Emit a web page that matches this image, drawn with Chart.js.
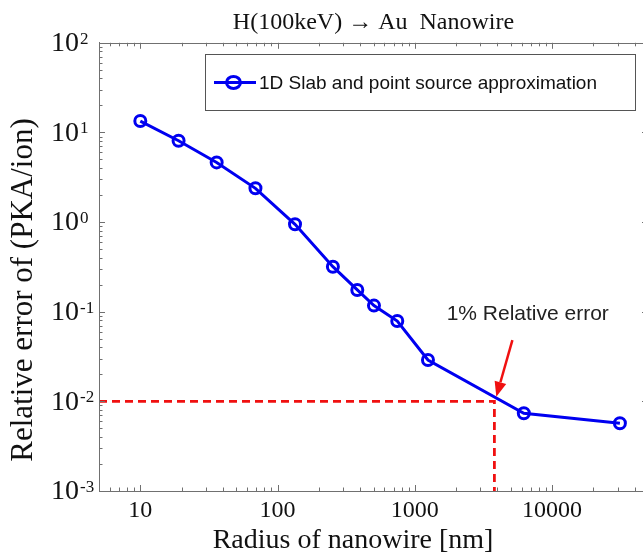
<!DOCTYPE html>
<html><head><meta charset="utf-8">
<script src="https://cdn.jsdelivr.net/npm/chart.js@4/dist/chart.umd.min.js"></script>
<style>
html,body{margin:0;padding:0;background:#fff;overflow:hidden;width:643px;height:555px}
#wrap{width:660px;height:555px;position:relative}
</style>
</head><body><div id="wrap"><canvas id="c" width="660" height="555"></canvas></div>
<script>
// ---- data ----
const radiusNm = [10, 19, 36, 69, 134, 253, 381, 504, 745, 1247, 6225, 31200];
const relError = [13.4, 8.07, 4.63, 2.38, 0.944, 0.318, 0.175, 0.117, 0.0787, 0.0289, 0.00736, 0.00569];
const seriesLabel = '1D Slab and point source approximation';
const thresholdX = [5, 3800, 3800];
const thresholdY = [0.01, 0.01, 0.001];
const xTickValues = [10, 100, 1000, 10000];
const xTickLabels = ['10', '100', '1000', '10000'];
const yTickValues = [0.001, 0.01, 0.1, 1, 10, 100];
const yTickBase = ['10', '10', '10', '10', '10', '10'];
const yTickExponent = ['-3', '-2', '-1', '0', '1', '2'];
const titleText = 'H(100keV) \u2192 Au  Nanowire';
const xTitle = 'Radius of nanowire [nm]';
const yTitle = 'Relative error of (PKA/ion)';
const noteText = '1% Relative error';
const noteAt = [6650, 0.094];
const arrowFrom = [5140, 0.0483];
const arrowTo = [3925, 0.01127];

const SERIF = "'Liberation Serif','Times New Roman','DejaVu Serif',serif";
const SANS = "'Liberation Sans',Arial,'DejaVu Sans',sans-serif";
const BLUE = '#0000f0';
const RED = '#f01010';
const AXIS = '#707070';

const decor = {
  id: 'decor',
  afterDraw(chart) {
    const ctx = chart.ctx, a = chart.chartArea;
    const xs = chart.scales.x, ys = chart.scales.y;
    ctx.save();
    // frame
    ctx.strokeStyle = AXIS; ctx.lineWidth = 1;
    ctx.strokeRect(Math.round(a.left) + 0.5, Math.round(a.top) + 0.5, Math.round(a.right - a.left), Math.round(a.bottom - a.top));
    // inward ticks
    ctx.beginPath();
    for (let e = -4; e <= 5; e++) {
      for (let m = 1; m <= 9; m++) {
        const v = m * Math.pow(10, e);
        const len = m === 1 ? 6 : 3.5;
        if (v >= xs.min && v <= xs.max) {
          const px = Math.round(xs.getPixelForValue(v)) + 0.5;
          ctx.moveTo(px, a.bottom); ctx.lineTo(px, a.bottom - len);
          ctx.moveTo(px, a.top); ctx.lineTo(px, a.top + len);
        }
        if (v >= ys.min && v <= ys.max) {
          const py = Math.round(ys.getPixelForValue(v)) + 0.5;
          ctx.moveTo(a.left, py); ctx.lineTo(a.left + len, py);
          ctx.moveTo(a.right, py); ctx.lineTo(a.right - len, py);
        }
      }
    }
    ctx.stroke();

    // y tick labels: base + superscript exponent
    ctx.fillStyle = '#111';
    yTickValues.forEach((v, i) => {
      const py = ys.getPixelForValue(v);
      ctx.font = '28px ' + SERIF; ctx.textAlign = 'right'; ctx.textBaseline = 'middle';
      ctx.fillText(yTickBase[i], a.left - 20, py + 1);
      ctx.font = '17px ' + SERIF; ctx.textAlign = 'left'; ctx.textBaseline = 'alphabetic';
      ctx.fillText(yTickExponent[i], a.left - 19, py + 1);
    });

    // legend
    const lx = 205.5, ly = 54.5, lw = 430, lh = 56;
    ctx.fillStyle = '#fff'; ctx.fillRect(lx, ly, lw, lh);
    ctx.strokeStyle = '#555'; ctx.lineWidth = 1; ctx.strokeRect(lx, ly, lw, lh);
    const cy = ly + lh / 2;
    ctx.strokeStyle = BLUE; ctx.lineWidth = 3;
    ctx.beginPath(); ctx.moveTo(214, cy); ctx.lineTo(256, cy); ctx.stroke();
    ctx.beginPath(); ctx.ellipse(233.5, cy, 7, 6, 0, 0, Math.PI * 2); ctx.stroke();
    ctx.fillStyle = '#111'; ctx.font = '19px ' + SANS;
    ctx.textAlign = 'left'; ctx.textBaseline = 'middle';
    ctx.fillText(chart.data.datasets[0].label, 259, cy + 1);

    // arrow
    const x0 = xs.getPixelForValue(arrowFrom[0]), y0 = ys.getPixelForValue(arrowFrom[1]);
    const x1 = xs.getPixelForValue(arrowTo[0]), y1 = ys.getPixelForValue(arrowTo[1]);
    const ang = Math.atan2(y1 - y0, x1 - x0), hl = 15, hw = 6;
    const bx = x1 - hl * Math.cos(ang), by = y1 - hl * Math.sin(ang);
    ctx.strokeStyle = RED; ctx.fillStyle = RED; ctx.lineWidth = 2.5;
    ctx.beginPath(); ctx.moveTo(x0, y0); ctx.lineTo(bx, by); ctx.stroke();
    ctx.beginPath(); ctx.moveTo(x1, y1);
    ctx.lineTo(bx + hw * Math.sin(ang), by - hw * Math.cos(ang));
    ctx.lineTo(bx - hw * Math.sin(ang), by + hw * Math.cos(ang));
    ctx.closePath(); ctx.fill();

    // note text
    ctx.fillStyle = '#222'; ctx.font = '21px ' + SANS;
    ctx.textAlign = 'center'; ctx.textBaseline = 'middle';
    ctx.fillText(noteText, xs.getPixelForValue(noteAt[0]), ys.getPixelForValue(noteAt[1]));

    // axis titles
    ctx.fillStyle = '#111'; ctx.font = '28px ' + SERIF;
    ctx.textAlign = 'center'; ctx.textBaseline = 'alphabetic';
    ctx.fillText(xTitle, 353, 548);
    ctx.translate(24, 290); ctx.rotate(-Math.PI / 2);
    ctx.font = '31px ' + SERIF;
    ctx.textBaseline = 'middle';
    ctx.fillText(yTitle, 0, 0);
    ctx.restore();
  }
};

new Chart(document.getElementById('c'), {
  type: 'line',
  data: {
    datasets: [
      {
        label: seriesLabel,
        data: radiusNm.map((x, i) => ({ x: x, y: relError[i] })),
        borderColor: BLUE, borderWidth: 3,
        pointRadius: 5.5, pointBorderWidth: 3, pointBorderColor: BLUE,
        pointBackgroundColor: 'rgba(0,0,0,0)', pointStyle: 'circle',
        tension: 0, fill: false
      },
      {
        label: '1% threshold',
        data: thresholdX.map((x, i) => ({ x: x, y: thresholdY[i] })),
        borderColor: RED, borderWidth: 2.8, borderDash: [8, 5],
        pointRadius: 0, tension: 0, fill: false
      }
    ]
  },
  options: {
    responsive: false, animation: false, devicePixelRatio: 1,
    layout: { padding: { left: 0, right: 12, top: 0, bottom: 0 } },
    plugins: {
      legend: { display: false },
      tooltip: { enabled: false },
      title: {
        display: true, text: titleText, fullSize: false,
        color: '#111', font: { family: SERIF, size: 24, weight: 'normal' },
        padding: { top: 8, bottom: 6 }
      }
    },
    scales: {
      x: {
        type: 'logarithmic', min: 5, max: 50000,
        grid: { display: false, drawTicks: false },
        border: { display: true, color: AXIS, width: 1 },
        afterBuildTicks: s => { s.ticks = xTickValues.map(v => ({ value: v })); },
        afterFit: s => { s.height = 64; },
        ticks: {
          autoSkip: false, maxRotation: 0, padding: 5, color: '#111',
          font: { family: SERIF, size: 24 },
          callback: v => { const i = xTickValues.indexOf(v); return i >= 0 ? xTickLabels[i] : ''; }
        }
      },
      y: {
        type: 'logarithmic', min: 0.001, max: 100,
        grid: { display: false, drawTicks: false },
        border: { display: true, color: AXIS, width: 1 },
        afterBuildTicks: s => { s.ticks = yTickValues.map(v => ({ value: v })); },
        afterFit: s => { s.width = 99; },
        ticks: { display: false }
      }
    }
  },
  plugins: [decor]
});
</script>
</body></html>
